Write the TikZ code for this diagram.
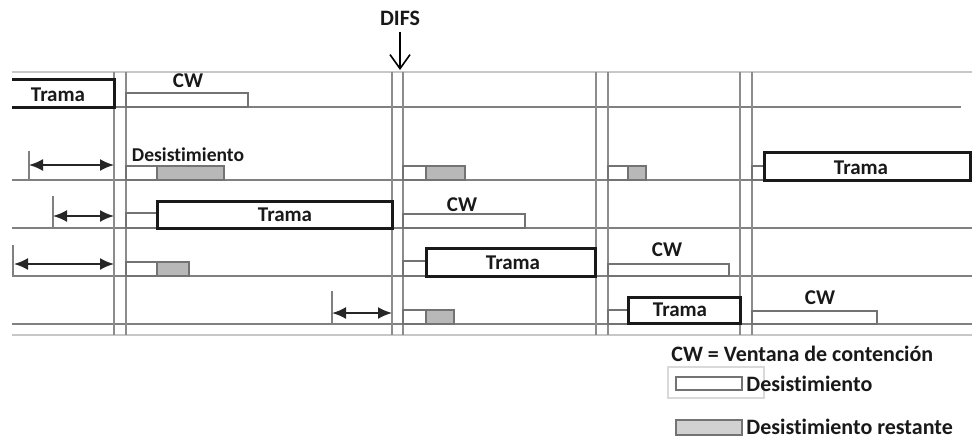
\documentclass[tikz,border=0pt]{standalone}
\usepackage{fontspec}
\setmainfont[Ligatures={NoCommon}]{Carlito}
\usetikzlibrary{arrows.meta}

\tikzset{
  lbl/.style={font=\fontsize{10.5}{12}\selectfont\bfseries, text=black!90, inner sep=0pt},
  smalllbl/.style={lbl, font=\fontsize{9.8}{11}\selectfont\bfseries},
  leglbl/.style={lbl, font=\fontsize{11}{12}\selectfont\bfseries},
  baseln/.style={draw=black!50, line width=1.1pt},
  frameln/.style={draw=black!22, line width=0.6pt},
  slotln/.style={draw=black!45, line width=1.1pt},
  tramabox/.style={draw=black!90, line width=1.5pt, fill=white},
  waitbox/.style={draw=black!55, line width=0.9pt, fill=white},
  restbox/.style={draw=black!55, line width=0.9pt, fill=black!28},
  tickln/.style={draw=black!50, line width=0.8pt},
  waitarrow/.style={{Latex[length=7pt,width=6pt]}-{Latex[length=7pt,width=6pt]},
    line width=1pt, black!85},
}

\begin{document}
\begin{tikzpicture}[x=0.5pt, y=-0.5pt]
  \useasboundingbox (0,0) rectangle (972,439);

  % --- time axes and slot borders ---------------------------------------
  \draw[frameln] (12,72) -- (972,72);
  \draw[frameln] (12,335) -- (972,335);
  \draw[baseln] (12,107) -- (961,107);
  \foreach \y in {180,228,276,324}
    \draw[baseln] (12,\y) -- (972,\y);
  \foreach \x/\n in {114/s1,126/e1,392/s2,403/e2,596/s3,608/e3,740/s4,752/e4} {
    \coordinate (\n) at (\x,72);
    \draw[slotln] (\x,72) -- (\x,335);
  }

  % DIFS marker
  \node[leglbl] (difs) at (400,18) {DIFS};
  \coordinate (difsend) at (400,70);
  \draw[-{Straight Barb[length=7pt,width=10pt]}, line width=0.8pt] (difs.south) ++(0,6) -- (difsend);

  % --- station 1 ---------------------------------------------------------
  \draw[tramabox, fill=none] (12,79) -- (114,79) -- (114,107) -- (12,107);
  \node[lbl] (tr1) at (58,95) {Trama};
  \draw[waitbox] (126,93) rectangle (248,107);
  \node[lbl] (cw1) at (188,81) {CW};

  % --- station 2 ---------------------------------------------------------
  \coordinate (w2) at (29,165);
  \draw[tickln] (29,151) -- (29,180);
  \draw[waitarrow] (w2) -- (w2 -| s1);
  \node[smalllbl] (des) at (188,155) {Desistimiento};
  \draw[waitbox] (126,166) rectangle (157,180);
  \draw[restbox] (157,166) rectangle (224,180);
  \draw[waitbox] (403,166) rectangle (426,180);
  \draw[restbox] (426,166) rectangle (465,180);
  \draw[waitbox] (608,166) rectangle (628,180);
  \draw[restbox] (628,166) rectangle (646,180);
  \draw[waitbox] (752,166) rectangle (764,180);
  \draw[tramabox] (764,152) rectangle (970,180);
  \node[lbl] (tr2) at (861,168) {Trama};

  % --- station 3 ---------------------------------------------------------
  \coordinate (w3) at (53,216);
  \draw[tickln] (53,196) -- (53,228);
  \draw[waitarrow] (w3) -- (w3 -| s1);
  \draw[waitbox] (126,213) rectangle (157,228);
  \draw[tramabox] (157,201) rectangle (392,228);
  \node[lbl] (tr3) at (285,215) {Trama};
  \draw[waitbox] (403,214) rectangle (525,228);
  \node[lbl] (cw3) at (462,205) {CW};

  % --- station 4 ---------------------------------------------------------
  \coordinate (w4) at (14,264);
  \draw[tickln] (13,245) -- (13,276);
  \draw[waitarrow] (w4) -- (w4 -| s1);
  \draw[waitbox] (126,262) rectangle (157,276);
  \draw[restbox] (157,262) rectangle (189,276);
  \draw[waitbox] (403,261) rectangle (426,276);
  \draw[tramabox] (426,248) rectangle (595,276);
  \node[lbl] (tr4) at (513,263) {Trama};
  \draw[waitbox] (608,264) rectangle (729,276);
  \node[lbl] (cw4) at (667,250) {CW};

  % --- station 5 ---------------------------------------------------------
  \coordinate (w5) at (332,313);
  \draw[tickln] (332,291) -- (332,324);
  \draw[waitarrow] (w5) -- (w5 -| s2);
  \draw[waitbox] (403,310) rectangle (426,324);
  \draw[restbox] (426,310) rectangle (454,324);
  \draw[waitbox] (608,310) rectangle (628,324);
  \draw[tramabox] (628,297) rectangle (740,323);
  \node[lbl] (tr5) at (680,310) {Trama};
  \draw[waitbox] (752,311) rectangle (877,324);
  \node[lbl] (cw5) at (820,298) {CW};

  % --- legend ------------------------------------------------------------
  \node[leglbl, anchor=west] (leg) at (671,354) {CW = Ventana de contención};
  \draw[frameln, draw=black!15] (668,367) rectangle (764,398);
  \draw[waitbox, line width=1pt] (676,377) rectangle (742,390);
  \node[leglbl, anchor=west] (legw) at (746,384) {Desistimiento};
  \draw[restbox, fill=black!18, line width=1pt] (676,420) rectangle (742,435);
  \node[leglbl, anchor=west] (legr) at (746,427) {Desistimiento restante};
\end{tikzpicture}
\end{document}
